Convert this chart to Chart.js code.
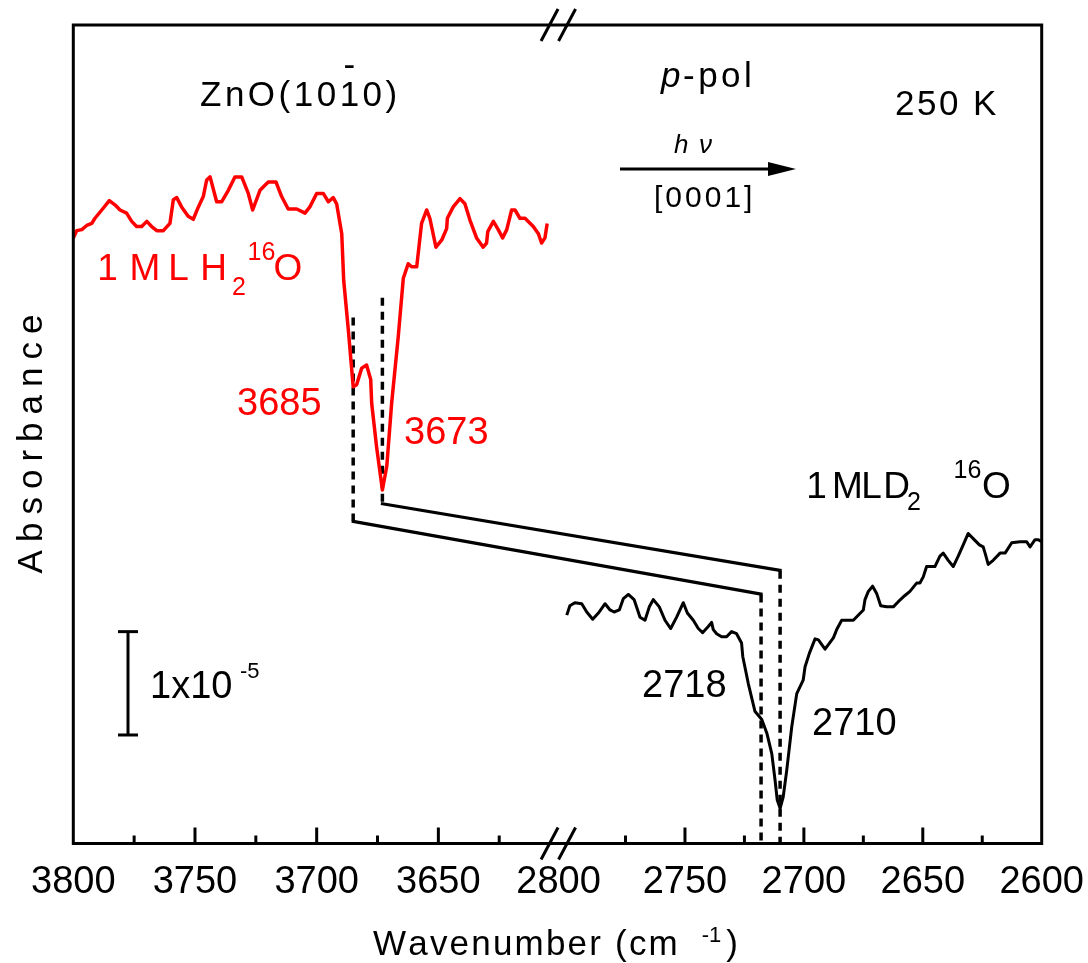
<!DOCTYPE html>
<html>
<head>
<meta charset="utf-8">
<script src="https://cdn.jsdelivr.net/npm/chart.js@4/dist/chart.umd.min.js"></script>
<style>
  html, body { margin: 0; padding: 0; background: #fff; }
  canvas { display: block; }
</style>
</head>
<body>
<canvas id="spectra" width="1088" height="963"></canvas>
<script>
// 1 ML H2(16)O on ZnO(10-10), O-H stretch region (absorbance in units of 1e-5)
const h2oWavenumber = [
  3800.0, 3798.6, 3796.5, 3794.5, 3792.4, 3791.1, 3788.3, 3785.2, 3782.9, 3780.8,
  3778.1, 3776.0, 3774.0, 3771.9, 3769.8, 3767.8, 3765.7, 3763.0, 3760.3, 3758.9,
  3757.5, 3755.5, 3752.8, 3750.7, 3748.6, 3746.6, 3745.2, 3743.8, 3741.1, 3739.0,
  3736.3, 3733.6, 3730.8, 3728.1, 3726.3, 3723.3, 3719.9, 3716.7, 3714.4, 3711.7,
  3708.2, 3704.8, 3702.8, 3700.0, 3697.3, 3695.2, 3693.2, 3691.8, 3689.7, 3688.9,
  3687.0, 3685.0, 3683.6, 3681.5, 3679.5, 3677.8, 3677.4, 3675.4, 3673.0, 3671.2,
  3669.2, 3666.5, 3664.4, 3662.4, 3661.0, 3658.9, 3656.9, 3654.8, 3653.5, 3651.0,
  3648.6, 3646.6, 3646.3, 3643.9, 3641.1, 3639.1, 3637.0, 3634.3, 3631.6, 3630.2,
  3629.7, 3627.4, 3625.4, 3623.6, 3621.9, 3619.9, 3618.5, 3616.5, 3614.4, 3611.0,
  3608.9, 3607.6, 3606.2, 3605.3
];
const h2oAbs = [
  5.86, 5.93, 5.94, 5.98, 6.00, 6.05, 6.13, 6.22, 6.18, 6.13,
  6.10, 6.02, 5.97, 5.97, 6.02, 5.97, 5.93, 5.93, 6.00, 6.23,
  6.25, 6.16, 6.07, 6.04, 6.16, 6.26, 6.42, 6.45, 6.21, 6.21,
  6.32, 6.45, 6.45, 6.29, 6.13, 6.32, 6.40, 6.40, 6.26, 6.14,
  6.14, 6.10, 6.16, 6.29, 6.29, 6.21, 6.25, 6.19, 5.90, 5.45,
  4.97, 4.42, 4.44, 4.60, 4.63, 4.49, 4.26, 3.84, 3.42, 3.65,
  4.26, 4.90, 5.47, 5.61, 5.58, 5.58, 6.00, 6.13, 6.05, 5.77,
  5.84, 5.95, 6.05, 6.16, 6.24, 6.19, 6.03, 5.86, 5.77, 5.81,
  5.92, 6.02, 5.94, 5.86, 5.94, 6.13, 6.13, 6.05, 6.05, 5.97,
  5.90, 5.81, 5.86, 6.00
];

// 1 ML D2(16)O, O-D stretch region
const d2oWavenumber = [
  2799.7, 2798.4, 2796.3, 2793.4, 2791.3, 2788.8, 2786.4, 2783.6, 2781.5, 2779.8,
  2777.6, 2775.9, 2773.8, 2771.4, 2768.9, 2766.8, 2765.0, 2763.3, 2760.8, 2758.4,
  2756.0, 2753.5, 2750.7, 2749.0, 2746.5, 2744.4, 2742.6, 2740.2, 2738.8, 2738.1,
  2736.7, 2734.6, 2732.5, 2730.4, 2728.3, 2726.2, 2725.7, 2723.4, 2720.6, 2717.7,
  2715.6, 2713.5, 2712.1, 2711.2, 2710.0, 2708.7, 2707.2, 2705.1, 2703.0, 2700.3,
  2699.5, 2697.7, 2695.3, 2693.9, 2691.1, 2687.6, 2686.2, 2684.1, 2679.2, 2675.0,
  2674.3, 2672.9, 2671.1, 2669.4, 2667.7, 2665.2, 2662.4, 2660.3, 2657.5, 2655.4,
  2652.6, 2651.2, 2649.8, 2648.4, 2644.9, 2642.8, 2641.4, 2639.3, 2637.2, 2635.1,
  2633.0, 2630.9, 2628.8, 2626.2, 2624.6, 2623.8, 2622.5, 2620.4, 2617.5, 2615.4,
  2612.6, 2609.1, 2606.3, 2604.9, 2602.8, 2601.4, 2600.0
];
const d2oAbs = [
  2.21, 2.30, 2.33, 2.32, 2.24, 2.17, 2.23, 2.32, 2.26, 2.24,
  2.26, 2.37, 2.41, 2.36, 2.19, 2.16, 2.29, 2.36, 2.29, 2.16,
  2.08, 2.19, 2.33, 2.23, 2.16, 2.08, 2.04, 2.10, 2.14, 2.07,
  2.03, 2.00, 2.00, 2.05, 2.03, 1.94, 1.81, 1.55, 1.28, 1.20,
  1.07, 0.87, 0.61, 0.42, 0.34, 0.45, 0.71, 1.13, 1.45, 1.58,
  1.71, 1.84, 1.98, 1.97, 1.88, 1.99, 2.07, 2.16, 2.16, 2.26,
  2.36, 2.44, 2.49, 2.42, 2.30, 2.29, 2.29, 2.34, 2.40, 2.44,
  2.52, 2.52, 2.58, 2.68, 2.68, 2.78, 2.81, 2.74, 2.68, 2.78,
  2.89, 3.00, 2.95, 2.89, 2.87, 2.81, 2.70, 2.74, 2.81, 2.81,
  2.91, 2.92, 2.92, 2.87, 2.94, 2.94, 2.92
];

// peak assignments and the levels where their marker lines start and end
const h2oPeaks = [3685, 3673];
const d2oPeaks = [2718, 2710];
const h2oMarkTop = [5.09, 5.28];
const h2oMarkBottom = [3.12, 3.29];
const d2oMarkTop = [2.41, 2.64];

// bottom axis ticks for the two segments of the broken axis
const h2oLabels = [3800, 3750, 3700, 3650];
const h2oMajor = [3750, 3700, 3650];
const h2oMinor = [3775, 3725, 3675, 3625];
const d2oLabels = [2800, 2750, 2700, 2650, 2600];
const d2oMajor = [2750, 2700, 2650];
const d2oMinor = [2775, 2725, 2675, 2625];
const scaleBar = 1; // 1 x 10^-5

const RED = '#ff0000';
const FONT = '"Liberation Sans", Arial, Helvetica, sans-serif';

function toPoints(xs, ys) {
  return xs.map((x, i) => ({ x: x, y: ys[i] }));
}

function drawText(ctx, str, x, y, size, o) {
  o = o || {};
  ctx.save();
  ctx.font = (o.italic ? 'italic ' : '') + size + 'px ' + FONT;
  ctx.fillStyle = o.color || '#000';
  ctx.textAlign = 'left';
  ctx.textBaseline = 'alphabetic';
  const gap = o.gap || 0;
  const chars = Array.from(str);
  const widths = chars.map(c => ctx.measureText(c).width);
  const total = widths.reduce((a, b) => a + b, 0) + gap * (chars.length - 1);
  let cx = x;
  if (o.align === 'center') cx = x - total / 2;
  if (o.align === 'right') cx = x - total;
  const pos = [];
  chars.forEach((c, i) => {
    pos.push(cx);
    ctx.fillText(c, cx, y);
    cx += widths[i] + gap;
  });
  ctx.restore();
  return { pos: pos, widths: widths, end: cx - gap };
}

function line(ctx, x1, y1, x2, y2, w) {
  ctx.beginPath();
  ctx.lineWidth = w;
  ctx.moveTo(x1, y1);
  ctx.lineTo(x2, y2);
  ctx.stroke();
}

// label built from pieces, each centred on its own x
function pieces(ctx, list, color) {
  list.forEach(p => drawText(ctx, p[0], p[1], p[2], p[3], { align: 'center', color: color }));
}

const figureDecor = {
  id: 'figureDecor',
  afterDatasetsDraw(chart) {
    const ctx = chart.ctx;
    const a = chart.chartArea;
    const xh = chart.scales.xh, xd = chart.scales.xd, y = chart.scales.y;
    ctx.save();
    ctx.strokeStyle = '#000';
    ctx.lineCap = 'butt';

    // links between H2O and D2O peaks
    for (let i = 0; i < 2; i++) {
      line(ctx, xh.getPixelForValue(h2oPeaks[i]) - 1.5, y.getPixelForValue(h2oMarkBottom[i]),
        xd.getPixelForValue(d2oPeaks[i]) + 1.5, y.getPixelForValue(d2oMarkTop[i]), 3.2);
    }

    // frame
    ctx.lineWidth = 3;
    ctx.strokeRect(a.left, a.top, a.right - a.left, a.bottom - a.top);

    // inward ticks
    h2oMajor.forEach(v => { const px = xh.getPixelForValue(v); line(ctx, px, a.bottom, px, a.bottom - 16, 3); });
    h2oMinor.forEach(v => { const px = xh.getPixelForValue(v); line(ctx, px, a.bottom, px, a.bottom - 8, 3); });
    d2oMajor.forEach(v => { const px = xd.getPixelForValue(v); line(ctx, px, a.bottom, px, a.bottom - 16, 3); });
    d2oMinor.forEach(v => { const px = xd.getPixelForValue(v); line(ctx, px, a.bottom, px, a.bottom - 8, 3); });

    // axis break marks
    const bx = xh.getPixelForValue(3600) - 1.5;
    [a.top, a.bottom].forEach(by => {
      [-9, 8.5].forEach(off => line(ctx, bx + off - 8.5, by + 16, bx + off + 8.5, by - 16, 3));
    });

    // tick labels
    h2oLabels.forEach(v => drawText(ctx, String(v), xh.getPixelForValue(v), 893, 38, { align: 'center' }));
    d2oLabels.forEach(v => {
      const px = v === 2800 ? bx : xd.getPixelForValue(v);
      drawText(ctx, String(v), px, 893, 38, { align: 'center' });
    });

    // axis titles
    const t = drawText(ctx, 'Wavenumber (cm', 373, 955, 35, { gap: 2.2 });
    const s = drawText(ctx, '-1', t.end + 24, 942, 22);
    drawText(ctx, ')', s.end + 5, 955, 35);
    ctx.save();
    ctx.translate(42, 444);
    ctx.rotate(-Math.PI / 2);
    drawText(ctx, 'Absorbance', 0, 0, 35, { align: 'center', gap: 8 });
    ctx.restore();

    // sample and conditions
    const z = drawText(ctx, 'ZnO(1010)', 200, 106, 35, { gap: 3.5 });
    drawText(ctx, '-', z.pos[6] + z.widths[6] / 2, 76, 35, { align: 'center' });
    drawText(ctx, 'p', 661, 87, 35, { italic: true });
    drawText(ctx, '-pol', 683, 87, 35, { gap: 3.5 });
    drawText(ctx, '250 K', 895, 115, 35, { gap: 2.5 });
    drawText(ctx, 'h', 674, 153, 26, { italic: true });
    drawText(ctx, 'ν', 699, 153, 26, { italic: true });
    line(ctx, 620, 169, 772, 169, 3);
    ctx.beginPath();
    ctx.fillStyle = '#000';
    ctx.moveTo(768, 162);
    ctx.lineTo(796, 169);
    ctx.lineTo(768, 176);
    ctx.closePath();
    ctx.fill();
    drawText(ctx, '[0001]', 654, 207, 30, { gap: 3 });

    // species labels
    pieces(ctx, [
      ['1', 107.5, 280, 37], ['M', 145, 280, 37], ['L', 178.5, 280, 37], ['H', 213.5, 280, 37],
      ['2', 239, 295, 25], ['16', 261.5, 260, 25], ['O', 288, 280, 37]
    ], RED);
    pieces(ctx, [
      ['1', 816.5, 498, 37], ['M', 847.5, 498, 37], ['L', 871.5, 498, 37], ['D', 896.5, 498, 37],
      ['2', 914, 510, 25], ['16', 967.5, 478, 25], ['O', 996.5, 498, 37]
    ], '#000');

    // peak labels
    drawText(ctx, String(h2oPeaks[0]), 237, 415, 38, { color: RED });
    drawText(ctx, String(h2oPeaks[1]), 404, 444, 38, { color: RED });
    drawText(ctx, String(d2oPeaks[0]), 642, 697, 38);
    drawText(ctx, String(d2oPeaks[1]), 812, 735, 38);

    // absorbance scale bar
    const y0 = y.getPixelForValue(1.05), y1 = y.getPixelForValue(1.05 + scaleBar);
    line(ctx, 128, y0, 128, y1, 3);
    line(ctx, 118, y0, 138, y0, 3);
    line(ctx, 118, y1, 138, y1, 3);
    drawText(ctx, '1x10', 150, 698, 38);
    drawText(ctx, '-5', 240, 678, 22);

    ctx.restore();
  }
};

function marker(axis, wn, top, bottom) {
  return {
    data: [{ x: wn, y: top }, { x: wn, y: bottom }],
    xAxisID: axis,
    borderColor: '#000',
    borderWidth: 3.5,
    borderDash: [8, 6],
    pointRadius: 0,
    fill: false
  };
}

const datasets = [
  {
    label: '1 ML H2 16O',
    data: toPoints(h2oWavenumber, h2oAbs),
    xAxisID: 'xh',
    borderColor: RED,
    borderWidth: 3.5,
    pointRadius: 0,
    tension: 0,
    fill: false
  },
  {
    label: '1 ML D2 16O',
    data: toPoints(d2oWavenumber, d2oAbs),
    xAxisID: 'xd',
    borderColor: '#000',
    borderWidth: 3,
    pointRadius: 0,
    tension: 0,
    fill: false
  }
];
h2oPeaks.forEach((p, i) => datasets.push(marker('xh', p, h2oMarkTop[i], h2oMarkBottom[i])));
d2oPeaks.forEach((p, i) => datasets.push(marker('xd', p, d2oMarkTop[i], 0)));

// both x scales span the full plot width; each one is only drawn over its own segment
new Chart(document.getElementById('spectra'), {
  type: 'line',
  data: { datasets: datasets },
  options: {
    responsive: false,
    animation: false,
    devicePixelRatio: 1,
    layout: { padding: { left: 73.3, right: 46.3, top: 25, bottom: 119.5 } },
    plugins: { legend: { display: false }, tooltip: { enabled: false } },
    elements: { line: { borderJoinStyle: 'round', borderCapStyle: 'butt' } },
    scales: {
      xh: { type: 'linear', reverse: true, min: 3402.1, max: 3800, display: false },
      xd: { type: 'linear', reverse: true, min: 2600, max: 3007.2, display: false },
      y: { type: 'linear', min: 0, max: 7.92, display: false }
    }
  },
  plugins: [figureDecor]
});
</script>
</body>
</html>
